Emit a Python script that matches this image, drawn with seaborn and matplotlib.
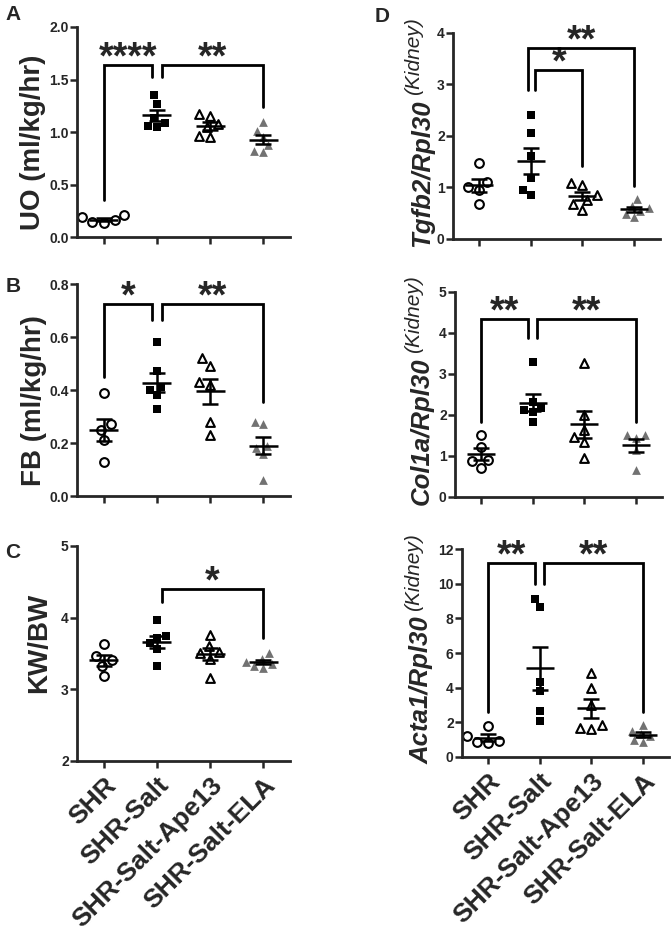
import numpy as np
import pandas as pd
import matplotlib
matplotlib.use('Agg')
import matplotlib.pyplot as plt
import matplotlib.transforms as mtransforms
import seaborn as sns

groups = ['SHR', 'SHR-Salt', 'SHR-Salt-Ape13', 'SHR-Salt-ELA']

# values, one list per group
uo = [[0.21, 0.19, 0.13, 0.14, 0.16],
      [1.35, 1.27, 1.13, 1.09, 1.05, 1.06],
      [1.15, 1.17, 1.08, 1.05, 0.96, 0.95],
      [1.10, 1.01, 0.95, 0.88, 0.82, 0.81]]
fb = [[0.39, 0.27, 0.25, 0.21, 0.13],
      [0.58, 0.47, 0.41, 0.40, 0.38, 0.33],
      [0.52, 0.49, 0.43, 0.42, 0.28, 0.23],
      [0.28, 0.27, 0.19, 0.18, 0.16, 0.06]]
kwbw = [[3.63, 3.46, 3.41, 3.33, 3.18],
        [3.96, 3.74, 3.72, 3.64, 3.56, 3.33],
        [3.76, 3.60, 3.52, 3.50, 3.42, 3.16],
        [3.50, 3.42, 3.38, 3.35, 3.32, 3.30]]
tgfb2 = [[1.48, 1.10, 1.00, 0.95, 0.67],
         [2.40, 2.05, 1.62, 1.18, 0.95, 0.86],
         [1.08, 1.05, 0.86, 0.76, 0.68, 0.57],
         [0.78, 0.64, 0.60, 0.55, 0.48, 0.42]]
col1a = [[1.52, 1.23, 0.91, 0.87, 0.70],
         [3.28, 2.32, 2.17, 2.12, 2.08, 1.84],
         [3.26, 2.00, 1.64, 1.47, 1.35, 0.95],
         [1.52, 1.50, 1.45, 1.15, 0.66]]
acta1 = [[1.80, 1.22, 0.95, 0.85, 0.78],
         [9.12, 8.67, 4.35, 3.78, 2.65, 2.10],
         [4.87, 3.96, 2.98, 1.82, 1.65, 1.62],
         [1.85, 1.50, 1.35, 1.20, 1.00, 0.85]]

# significance brackets: (group a, group b, leg a bottom, top, leg b bottom, label)
uo_sig = [(0, 1, 0.35, 1.64, 1.52, '****'), (1, 3, 1.52, 1.64, 1.24, '**')]
fb_sig = [(0, 1, 0.45, 0.725, 0.665, '*'), (1, 3, 0.665, 0.725, 0.356, '**')]
kwbw_sig = [(1, 3, 4.22, 4.40, 3.72, '*')]
tgfb2_sig = [(1, 3, 2.89, 3.71, 1.02, '**'), (1, 2, 2.89, 3.28, 1.41, '*')]
col1a_sig = [(0, 1, 1.84, 4.35, 3.87, '**'), (1, 3, 3.87, 4.35, 1.84, '**')]
acta1_sig = [(0, 1, 2.6, 11.2, 10.0, '**'), (1, 3, 10.0, 11.2, 2.6, '**')]

gray = '#727272'
styles = [dict(marker='o', color='white', edgecolor='black', linewidth=1.5),
          dict(marker='s', color='black', edgecolor='black', linewidth=0),
          dict(marker='^', color='white', edgecolor='black', linewidth=1.5),
          dict(marker='^', color=gray, edgecolor=gray, linewidth=0)]

sns.set_style('ticks')
plt.rcParams['font.family'] = ['Liberation Sans', 'DejaVu Sans']
plt.rcParams['font.weight'] = 'bold'

fig = plt.figure(figsize=(6.71, 9.31), dpi=100)


def panel(rect, data, sig, ylim, yticks, fmt, bottom=False, inner=False):
    ax = fig.add_axes(rect)
    df = pd.DataFrame([(g, v) for g, vals in zip(groups, data) for v in vals],
                      columns=['group', 'value'])
    for g, st in zip(groups, styles):
        sub = df[df['group'] == g]
        sns.swarmplot(data=sub, x='group', y='value', order=groups, size=6.3,
                      ax=ax, zorder=2, **st)
    stats = df.groupby('group')['value'].agg(['mean', 'sem']).reindex(groups)
    xs = np.arange(len(groups))
    ax.hlines(stats['mean'], xs - 0.27, xs + 0.27, color='black', lw=1.8, zorder=3)
    ax.errorbar(xs, stats['mean'], yerr=stats['sem'], fmt='none', ecolor='black',
                elinewidth=1.8, capsize=5.5, capthick=1.8, zorder=3)
    for a, b, ya, top, yb, lab in sig:
        xa = a + (0.09 if a == 1 else 0)
        xb = b - (0.09 if b == 1 else 0)
        if inner and a == 1 and b == 2:
            xa = a + 0.09
        elif inner and a == 1:
            xa = a - 0.05
        ax.plot([xa, xa, xb, xb], [ya, top, top, yb], color='black', lw=2,
                clip_on=False, zorder=4, solid_joinstyle='miter')
        ax.annotate(lab, ((xa + xb) / 2, top), xytext=(0, -2.5), textcoords='offset points',
                    ha='center', va='baseline', fontsize=27, fontweight='bold',
                    annotation_clip=False)
    ax.set_xlim(-0.5, 3.5)
    ax.set_ylim(*ylim)
    ax.set_yticks(yticks)
    ax.set_yticklabels([fmt.format(t) for t in yticks], fontsize=10, fontweight='bold')
    ax.set_xlabel('')
    ax.set_ylabel('')
    ax.set_xticks(xs)
    if bottom:
        ax.set_xticklabels(groups, rotation=45, ha='right', va='top',
                           rotation_mode='anchor', fontsize=19, fontweight='bold')
    else:
        ax.set_xticklabels([])
    sns.despine(ax=ax)
    for s in ['left', 'bottom']:
        ax.spines[s].set_linewidth(2)
    ax.tick_params(width=1.8, length=5, direction='out')
    ax.tick_params(axis='y', pad=1)
    return ax


L, W = 77 / 671, 213 / 671
WR = 207 / 671

ax_a = panel([L, 0.7454, W, 0.2256], uo, uo_sig, (0, 2), [0, 0.5, 1.0, 1.5, 2.0], '{:.1f}')
ax_a.set_ylabel('UO (ml/kg/hr)', fontsize=20, fontweight='bold')
ax_a.yaxis.set_label_coords(-0.145, 0.45)
ax_b = panel([L, 0.4672, W, 0.2277], fb, fb_sig, (0, 0.8), [0, 0.2, 0.4, 0.6, 0.8], '{:.1f}')
ax_b.set_ylabel('FB (ml/kg/hr)', fontsize=20, fontweight='bold')
ax_b.yaxis.set_label_coords(-0.14, 0.45)
ax_c = panel([L, 0.1826, W, 0.2310], kwbw, kwbw_sig, (2, 5), [2, 3, 4, 5], '{:.0f}', bottom=True)
ax_c.set_ylabel('KW/BW', fontsize=20, fontweight='bold')
ax_c.yaxis.set_label_coords(-0.115, 0.55)

ax_d = panel([453 / 671, 0.7433, WR, 0.2213], tgfb2, tgfb2_sig, (0, 4), [0, 1, 2, 3, 4], '{:.0f}', inner=True)
ax_e = panel([455 / 671, 0.4662, WR, 0.2202], col1a, col1a_sig, (0, 5), [0, 1, 2, 3, 4, 5], '{:.0f}')
ax_f = panel([462 / 671, 0.1869, WR, 0.2234], acta1, acta1_sig, (0, 12), list(range(0, 13, 2)), '{:.0f}', bottom=True)

for ax, name in [(ax_d, 'Tgfb2/Rpl30'), (ax_e, 'Col1a/Rpl30'), (ax_f, 'Acta1/Rpl30')]:
    tr = mtransforms.blended_transform_factory(fig.transFigure, ax.transAxes)
    ax.text(422 / 671, 0.32, name, transform=tr, rotation=90, ha='center',
            va='center', fontsize=18.5, fontweight='bold', style='italic')
    ax.text(414 / 671, 0.89, '(Kidney)', transform=tr, rotation=90, ha='center',
            va='center', fontsize=15, fontweight='normal', style='italic')

for lab, x, y in [('A', 13, 15), ('B', 13, 287), ('C', 13, 552), ('D', 382, 17)]:
    fig.text(x / 671, 1 - y / 931, lab, ha='center', va='center', fontsize=15,
             fontweight='bold')

fig.savefig('out.png', dpi=100)
